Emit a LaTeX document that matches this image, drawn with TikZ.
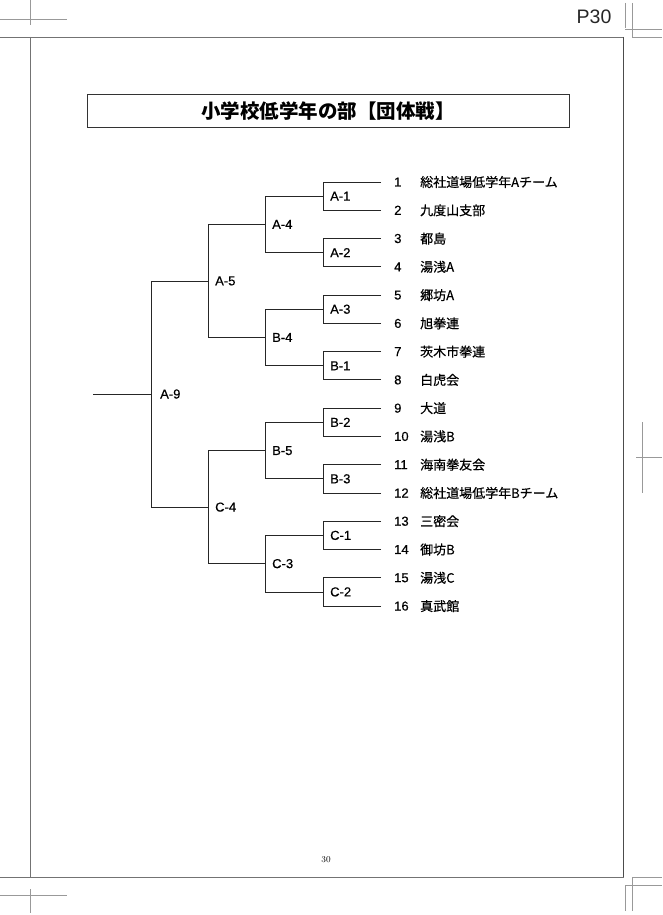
\documentclass[tikz,border=0pt]{standalone}
\usepackage{fontspec}
\newfontfamily\jp[FakeBold=0.5]{Noto Sans CJK JP}
\newfontfamily\jpt{Noto Sans CJK JP}
\newfontfamily\lsans[FakeBold=0.5]{Liberation Sans}
\newfontfamily\psans{Liberation Sans}
\begin{document}
\begin{tikzpicture}[x=1pt,y=-1pt,
  br/.style={line width=0.8pt, draw=black!85},
  framel/.style={line width=0.8pt, draw=black!55},
  crop/.style={line width=0.5pt, draw=black!40},
  lbl/.style={anchor=west, inner sep=0pt, xshift=7pt, font=\lsans\fontsize{13}{13}\selectfont},
  num/.style={anchor=west, inner sep=0pt, font=\lsans\fontsize{13}{13}\selectfont},
  team/.style={anchor=west, inner sep=0pt, font=\jp\fontsize{13}{13}\selectfont},
  titlebox/.style={draw=black!80, line width=1pt, minimum width=482pt, minimum height=33pt, inner sep=0pt,
    font=\jpt\bfseries\fontsize{19.5}{19.5}\selectfont}]
\useasboundingbox (0,0) rectangle (662,915);
% page frame
\draw[framel] (0,37) -- (623.5,37);
\draw[framel] (0,877) -- (623.5,877);
\draw[framel] (30,37) -- (30,877);
\draw[framel, draw=black!70] (623.5,37) -- (623.5,877);
% crop marks
\draw[crop] (30,0) -- (30,25);
\draw[crop] (0,19) -- (67,19);
\draw[crop] (30,889) -- (30,913);
\draw[crop] (0,895) -- (67,895);
\draw[crop] (625,3) -- (625,28);
\draw[crop] (632,3) -- (632,37);
\draw[crop] (625,29) -- (662,29);
\draw[crop] (632,37) -- (662,37);
\draw[crop] (632,877) -- (662,877);
\draw[crop] (625,885) -- (662,885);
\draw[crop] (625,885) -- (625,911);
\draw[crop] (632,877) -- (632,911);
\draw[crop] (642,422) -- (642,493);
\draw[crop] (636,457) -- (662,457);
% page labels
\node[font=\psans\fontsize{19.5}{19.5}\selectfont, text=black!85, inner sep=0pt] (pg) at (594,16.5) {P30};
\node[font=\fontsize{9}{9}\selectfont, inner sep=0pt] (pnum) at (326,860) {30};
% title
\node[titlebox] (title) at (328,111.5) {小学校低学年の部【団体戦】};
% leaves
\foreach \i/\t in {1/総社道場低学年Aチーム,2/九度山支部,3/都島,4/湯浅A,5/郷坊A,6/旭拳連,7/茨木市拳連,8/白虎会,
  9/大道,10/湯浅B,11/海南拳友会,12/総社道場低学年Bチーム,13/三密会,14/御坊B,15/湯浅C,16/真武館}{
  \pgfmathsetmacro\yy{182+(\i-1)*28.27}
  \coordinate (e\i) at (381,\yy);
  \node[num] (n\i) at (394,\yy) {\i};
  \node[team] (m\i) at (420,\yy) {\t};
}
% level 1
\foreach \k/\t in {1/A-1,2/A-2,3/A-3,4/B-1,5/B-2,6/B-3,7/C-1,8/C-2}{
  \pgfmathtruncatemacro\a{2*\k-1}
  \pgfmathtruncatemacro\b{2*\k}
  \pgfmathsetmacro\yy{182+(2*\k-1.5)*28.27}
  \coordinate (j1-\k) at (323,\yy);
  \draw[br] (e\a) -| (j1-\k);
  \draw[br] (e\b) -| (j1-\k);
  \node[lbl] (l1-\k) at (j1-\k) {\t};
}
% level 2
\foreach \k/\t in {1/A-4,2/B-4,3/B-5,4/C-3}{
  \pgfmathtruncatemacro\a{2*\k-1}
  \pgfmathtruncatemacro\b{2*\k}
  \pgfmathsetmacro\yy{182+(4*\k-2.5)*28.27}
  \coordinate (j2-\k) at (265,\yy);
  \draw[br] (j1-\a) -| (j2-\k);
  \draw[br] (j1-\b) -| (j2-\k);
  \node[lbl] (l2-\k) at (j2-\k) {\t};
}
% level 3
\foreach \k/\t in {1/A-5,2/C-4}{
  \pgfmathtruncatemacro\a{2*\k-1}
  \pgfmathtruncatemacro\b{2*\k}
  \pgfmathsetmacro\yy{182+(8*\k-4.5)*28.27}
  \coordinate (j3-\k) at (208,\yy);
  \draw[br] (j2-\a) -| (j3-\k);
  \draw[br] (j2-\b) -| (j3-\k);
  \node[lbl] (l3-\k) at (j3-\k) {\t};
}
% level 4
\coordinate (j4) at (151,{182+7.5*28.27});
\draw[br] (j3-1) -| (j4);
\draw[br] (j3-2) -| (j4);
\node[lbl, xshift=2pt] (l4) at (j4) {A-9};
\coordinate (root) at (93,{182+7.5*28.27});
\draw[br] (root) -- (j4);
\end{tikzpicture}
\end{document}
